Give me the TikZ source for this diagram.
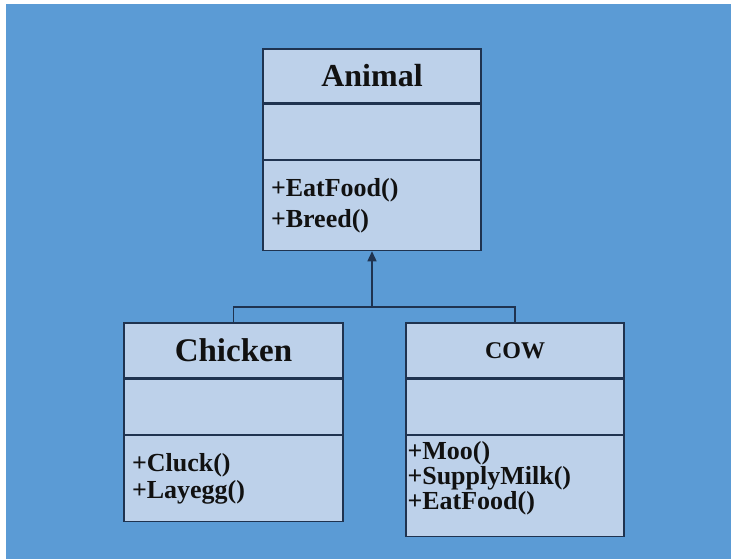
\documentclass[tikz,border=0pt]{standalone}
\usepackage{fontspec}
\setmainfont{Liberation Serif}
\usetikzlibrary{arrows.meta,positioning}
\definecolor{canvasblue}{HTML}{5B9BD5}
\definecolor{boxfill}{HTML}{BDD1EA}
\definecolor{boxline}{HTML}{1F3350}
\definecolor{inktext}{HTML}{111111}
\tikzset{
    %Define standard arrow tip
    >={Triangle[length=10pt,width=9pt]},
    %Define style for class boxes
    classtitle/.style={
           rectangle,
           draw=boxline, line width=1.3pt,
           fill=boxfill,
           minimum width=218pt,
           minimum height=55pt,
           inner sep=0pt,
           text=inktext,
           font=\bfseries\fontsize{32}{38}\selectfont},
    classattr/.style={
           rectangle,
           draw=boxline, line width=1.3pt,
           fill=boxfill,
           minimum width=218pt,
           minimum height=55pt,
           inner sep=0pt},
    classops/.style={
           rectangle,
           draw=boxline, line width=1.3pt,
           fill=boxfill,
           inner xsep=8pt, inner ysep=0pt,
           text width=202pt,
           align=left,
           text=inktext,
           font=\bfseries\fontsize{26}{31}\selectfont},
    % Define line style
    pil/.style={
           draw=boxline,
           line width=1.3pt}
}
\begin{document}
\begin{tikzpicture}[x=1pt,y=-1pt,node distance=0pt]
\fill[canvasblue] (6,4) rectangle (731,559);
\useasboundingbox (0,0) rectangle (731,559);

\node[classtitle, minimum height=54pt](animal) at (372,76){Animal};
\node[classattr, below=of animal](animalattr){};
\node[classops, below=of animalattr, minimum height=90pt](animalops){+EatFood()\\+Breed()};

\node[classtitle, minimum width=219pt, font=\bfseries\fontsize{33}{38}\selectfont](chicken) at (233.5,350.5){Chicken};
\node[classattr, minimum width=219pt, below=of chicken](chickenattr){};
\node[classops, text width=203pt, below=of chickenattr, minimum height=86pt, font=\bfseries\fontsize{26}{27}\selectfont](chickenops){+Cluck()\\+Layegg()};

\node[classtitle, font=\bfseries\fontsize{24}{28}\selectfont](cow) at (515,350.5){COW};
\node[classattr, below=of cow](cowattr){};
\node[classops, inner xsep=1.5pt, text width=215pt, below=of cowattr, minimum height=101pt, text depth=71pt, font=\bfseries\fontsize{26}{25}\selectfont](cowops){+Moo()\\+SupplyMilk()\\+EatFood()};

\coordinate (fork) at (animalops.south |- 0,307);
\draw[pil]
	(chicken.north) |- (fork) -| (cow.north);
\draw[pil,->]
	(fork) -- (animalops.south);
\end{tikzpicture}
\end{document}
